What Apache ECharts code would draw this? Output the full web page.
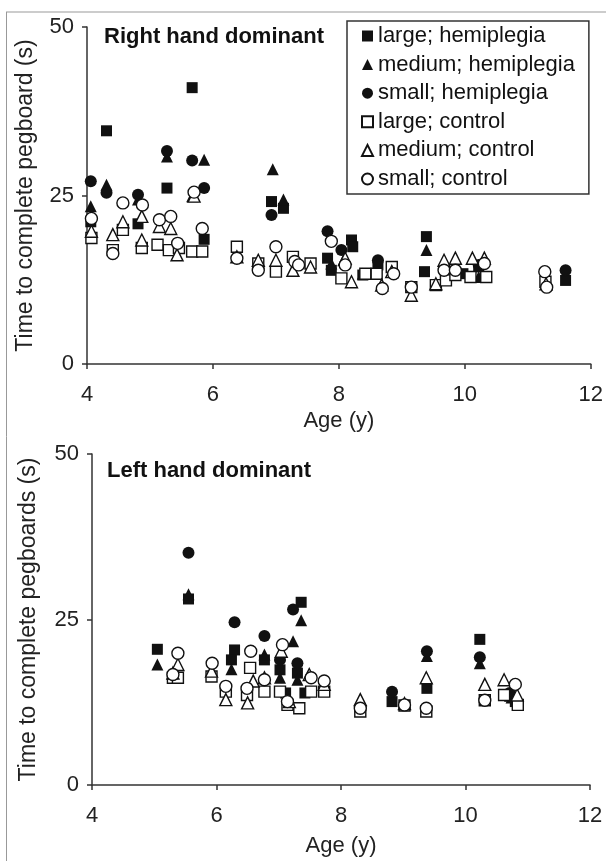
<!DOCTYPE html>
<html>
<head>
<meta charset="utf-8">
<script src="https://cdn.jsdelivr.net/npm/echarts@6/dist/echarts.min.js"></script>
<style>
  html, body { margin: 0; padding: 0; background: #fff; }
  #main { width: 606px; height: 861px; }
</style>
</head>
<body>
<div id="main"></div>
<script>
// series names
const seriesNames = [
  "large; hemiplegia", "medium; hemiplegia", "small; hemiplegia",
  "large; control", "medium; control", "small; control"
];
const yTicks = [0, 25, 50];
const xTicks = [4, 6, 8, 10, 12];

// Right hand dominant  [age, seconds]
const rightLargeHemi = [[4.31,34.6],[5.67,41.0],[5.27,26.1],[4.06,21.1],[4.81,20.8],[5.86,18.5],[6.93,24.1],[7.12,23.1],[7.82,15.7],[7.88,13.9],[8.20,18.4],[8.22,17.4],[8.38,13.2],[8.62,14.7],[9.39,18.9],[9.36,13.7],[9.97,13.4],[10.22,14.4],[11.60,12.4]];
const rightMedHemi = [[4.06,23.4],[4.31,26.6],[4.81,24.4],[5.27,30.8],[5.86,30.3],[5.67,24.9],[6.95,28.9],[7.12,24.4],[7.88,14.9],[8.07,15.4],[8.38,13.4],[9.39,16.9],[10.22,12.9],[11.30,11.9]];
const rightSmallHemi = [[4.06,27.1],[4.31,25.4],[4.81,25.1],[5.27,31.6],[5.67,30.2],[5.86,26.1],[6.93,22.1],[7.82,19.7],[8.04,16.9],[8.62,15.4],[9.67,14.2],[10.22,14.7],[11.60,13.9]];
const rightLargeCtrl = [[4.07,18.7],[4.41,16.9],[4.57,19.9],[4.87,17.2],[5.12,17.7],[5.30,16.9],[5.46,17.2],[5.67,16.7],[5.83,16.7],[6.38,17.4],[6.72,14.9],[7.00,13.7],[7.27,15.9],[7.55,14.9],[8.04,12.7],[8.42,13.4],[8.60,13.4],[8.84,14.4],[9.15,11.4],[9.54,11.7],[9.70,12.4],[9.85,13.2],[10.09,12.9],[10.34,12.9],[11.28,12.2]];
const rightMedCtrl = [[4.07,19.7],[4.41,19.2],[4.57,21.1],[4.87,18.4],[4.87,21.9],[5.15,20.4],[5.33,20.1],[5.43,16.2],[5.70,24.9],[6.38,15.9],[6.72,15.4],[7.00,15.4],[7.27,13.9],[7.55,14.4],[8.10,15.7],[8.20,12.2],[8.68,11.7],[8.84,13.7],[9.15,10.2],[9.54,11.9],[9.67,15.4],[9.85,15.7],[10.12,15.7],[10.31,15.7],[11.29,11.9]];
const rightSmallCtrl = [[4.07,21.6],[4.41,16.4],[4.57,23.9],[4.88,23.6],[5.15,21.4],[5.33,21.9],[5.44,17.9],[5.70,25.5],[5.83,20.1],[6.38,15.7],[6.72,13.9],[7.00,17.4],[7.30,15.2],[7.36,14.7],[7.88,18.2],[8.10,14.7],[8.69,11.2],[8.87,13.4],[9.15,11.4],[9.67,13.9],[9.85,13.9],[10.31,14.9],[11.27,13.7],[11.30,11.4]];

// Left hand dominant  [age, seconds]
const leftLargeHemi = [[5.05,20.5],[5.55,28.1],[6.29,20.4],[6.24,18.9],[6.77,18.9],[7.02,17.4],[7.11,13.9],[7.36,27.6],[7.30,16.9],[7.42,13.9],[8.82,12.6],[9.38,14.6],[10.23,22.0],[10.71,13.4],[10.80,12.6]];
const leftMedHemi = [[5.05,18.2],[5.55,28.8],[6.24,17.5],[6.77,19.7],[7.23,21.7],[7.36,24.9],[7.02,16.2],[7.30,15.9],[9.38,19.5],[10.23,18.4],[10.74,13.2]];
const leftSmallHemi = [[5.55,35.1],[6.29,24.6],[6.77,22.5],[7.23,26.5],[7.30,18.4],[7.02,18.9],[8.82,14.1],[9.38,20.2],[10.23,19.3],[10.71,13.9]];
const leftLargeCtrl = [[5.30,16.2],[5.38,16.2],[5.92,16.4],[6.15,14.1],[6.49,13.6],[6.54,17.7],[6.77,14.1],[7.02,14.1],[7.14,12.1],[7.33,11.6],[7.52,14.1],[7.73,14.1],[8.31,11.1],[9.02,12.0],[9.37,11.1],[10.31,12.8],[10.62,13.6],[10.84,12.1]];
const leftMedCtrl = [[5.30,16.9],[5.38,18.2],[5.92,17.2],[6.15,12.9],[6.50,12.4],[6.59,15.7],[6.77,16.2],[7.04,20.2],[7.17,12.6],[7.49,16.7],[7.73,15.2],[8.31,12.9],[9.02,12.3],[9.37,16.2],[10.31,15.2],[10.62,15.9],[10.83,13.6]];
const leftSmallCtrl = [[5.38,19.9],[5.30,16.7],[5.93,18.4],[6.15,14.9],[6.55,20.2],[6.49,14.6],[6.77,15.9],[7.06,21.2],[7.14,12.6],[7.52,16.2],[7.73,15.7],[8.31,11.6],[9.02,12.1],[9.37,11.6],[10.31,12.8],[10.80,15.2]];

const rightData = [rightLargeHemi, rightMedHemi, rightSmallHemi, rightLargeCtrl, rightMedCtrl, rightSmallCtrl];
const leftData = [leftLargeHemi, leftMedHemi, leftSmallHemi, leftLargeCtrl, leftMedCtrl, leftSmallCtrl];
const symbols = ["rect", "triangle", "circle", "rect", "triangle", "circle"];

const font = "Liberation Sans, Arial, sans-serif";
const ink = "#111";

function makeSeries(dataSets, idx) {
  return dataSets.map((d, i) => {
    const filled = i < 3;
    return {
      name: seriesNames[i],
      type: "scatter",
      xAxisIndex: idx,
      yAxisIndex: idx,
      symbol: symbols[i],
      symbolSize: symbols[i] === "rect" ? 11 : 12,
      itemStyle: filled
        ? { color: ink, opacity: 1 }
        : { color: "#fff", borderColor: ink, borderWidth: 1.4, opacity: 1 },
      data: d
    };
  });
}

function xAxis(gridIndex, gap) {
  return {
    gridIndex: gridIndex,
    type: "value",
    min: 4, max: 12, interval: 2,
    name: "Age (y)",
    nameLocation: "middle",
    nameGap: gap,
    nameTextStyle: { fontFamily: font, fontSize: 22, color: "#222" },
    axisLine: { show: true, onZero: false, lineStyle: { color: "#333", width: 1.5 } },
    axisTick: { show: true, length: 5, lineStyle: { color: "#333", width: 1.5 } },
    axisLabel: { fontFamily: font, fontSize: 22, color: "#222", margin: 20,
      formatter: v => xTicks.includes(v) ? String(v) : "" },
    splitLine: { show: false }
  };
}

function yAxis(gridIndex, label, gap) {
  return {
    gridIndex: gridIndex,
    type: "value",
    min: 0, max: 50, interval: 25,
    name: label,
    nameLocation: "middle",
    nameGap: gap,
    nameTextStyle: { fontFamily: font, fontSize: 23, color: "#222" },
    axisLine: { show: true, lineStyle: { color: "#333", width: 1.5 } },
    axisTick: { show: true, length: 5, lineStyle: { color: "#333", width: 1.5 } },
    axisLabel: { fontFamily: font, fontSize: 22, color: "#222", margin: 13,
      formatter: v => yTicks.includes(v) ? String(v) : "" },
    splitLine: { show: false }
  };
}

const chart = echarts.init(document.getElementById("main"));

chart.setOption({
  backgroundColor: "#fff",
  animation: false,
  title: [
    { text: "Right hand dominant", left: 99, top: 21,
      textStyle: { fontFamily: font, fontSize: 22, fontWeight: "bold", color: ink } },
    { text: "Left hand dominant", left: 102, top: 455,
      textStyle: { fontFamily: font, fontSize: 22, fontWeight: "bold", color: ink } }
  ],
  legend: {
    orient: "vertical",
    left: 347, top: 21,
    padding: [4, 14, 4, 14],
    borderColor: "#333",
    borderWidth: 1.5,
    itemWidth: 11,
    itemHeight: 11,
    itemGap: 6.6,
    itemTextGap: 6,
    selectedMode: false,
    textStyle: { fontFamily: font, fontSize: 22, lineHeight: 22, color: ink },
    data: seriesNames.map((n, i) => ({ name: n, icon: symbols[i] }))
  },
  grid: [
    { left: 87, top: 27, width: 504, height: 337 },
    { left: 92, top: 454, width: 498, height: 331 }
  ],
  xAxis: [xAxis(0, 46), xAxis(1, 50)],
  yAxis: [yAxis(0, "Time to complete pegboard (s)", 50), yAxis(1, "Time to complete pegboards (s)", 52)],
  series: makeSeries(rightData, 0).concat(makeSeries(leftData, 1)),
  graphic: [
    { type: "line", shape: { x1: 6, y1: 12, x2: 606, y2: 12 }, style: { stroke: "#999", lineWidth: 1 } },
    { type: "line", shape: { x1: 6.5, y1: 12, x2: 6.5, y2: 861 }, style: { stroke: "#999", lineWidth: 1 } }
  ]
});
</script>
</body>
</html>
